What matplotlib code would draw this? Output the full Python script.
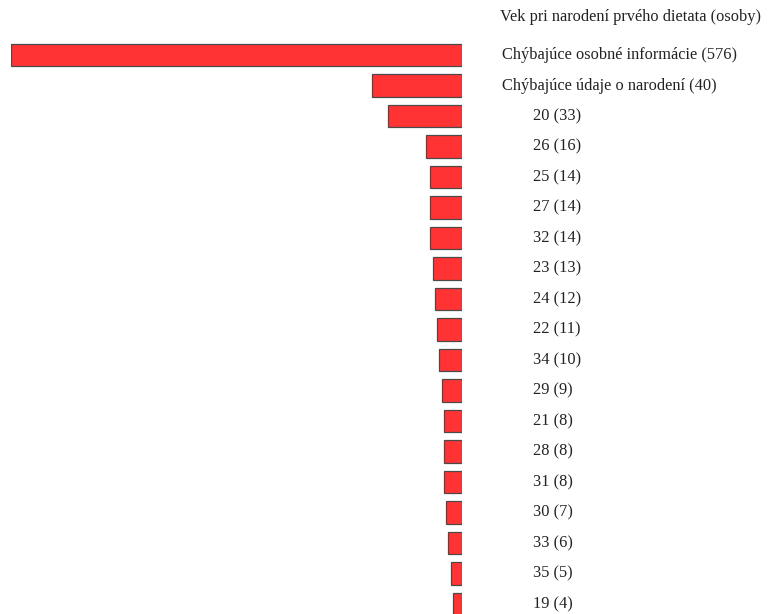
"""
Horizontal bar chart: age at birth of first child (persons).
"""

import numpy as np
import matplotlib
matplotlib.use("Agg")
import matplotlib.pyplot as plt
from matplotlib.transforms import blended_transform_factory

title = "Vek pri narodení prvého dietata (osoby)"
categories = ["Chýbajúce osobné informácie", "Chýbajúce údaje o narodení",
              "20", "26", "25", "27", "32", "23", "24", "22", "34",
              "29", "21", "28", "31", "30", "33", "35", "19"]
counts = [576, 40, 33, 16, 14, 14, 14, 13, 12, 11, 10,
          9, 8, 8, 8, 7, 6, 5, 4]

# the longest bar runs off the scale, so lengths are capped at the axis end
bar_cap = 200

W, H = 768, 614
fig = plt.figure(figsize=(W / 100, H / 100), dpi=100)
fig.patch.set_facecolor('white')

# axes placed in pixels: bars end at x=462, rows 30.5 px apart
row_h = 30.5
top_px = 55 - row_h / 2
n = len(categories)
ax = fig.add_axes([11 / W, 1 - (top_px + n * row_h) / H, 451 / W, n * row_h / H])
ax.set_axis_off()

y = np.arange(n)
ax.barh(y, np.minimum(counts, bar_cap), height=0.75, color='#ff3333',
        edgecolor='#4a4a4a', linewidth=0.9)
ax.set_xlim(bar_cap, 0)
ax.set_ylim(n - 0.5, -0.5)

font = dict(family=['Liberation Serif', 'DejaVu Serif'], fontsize=11.8, color='#222222')
tr = blended_transform_factory(fig.transFigure, ax.transData)
for i, (cat, cnt) in enumerate(zip(categories, counts)):
    x = 502 / W if i < 2 else 533 / W
    ax.text(x, i, f"{cat} ({cnt})", transform=tr, ha='left', va='center',
            clip_on=False, **font)

fig.text(500 / W, 1 - 17 / H, title, ha='left', va='center', **font)

fig.savefig("out.png", dpi=100, facecolor=fig.get_facecolor())
